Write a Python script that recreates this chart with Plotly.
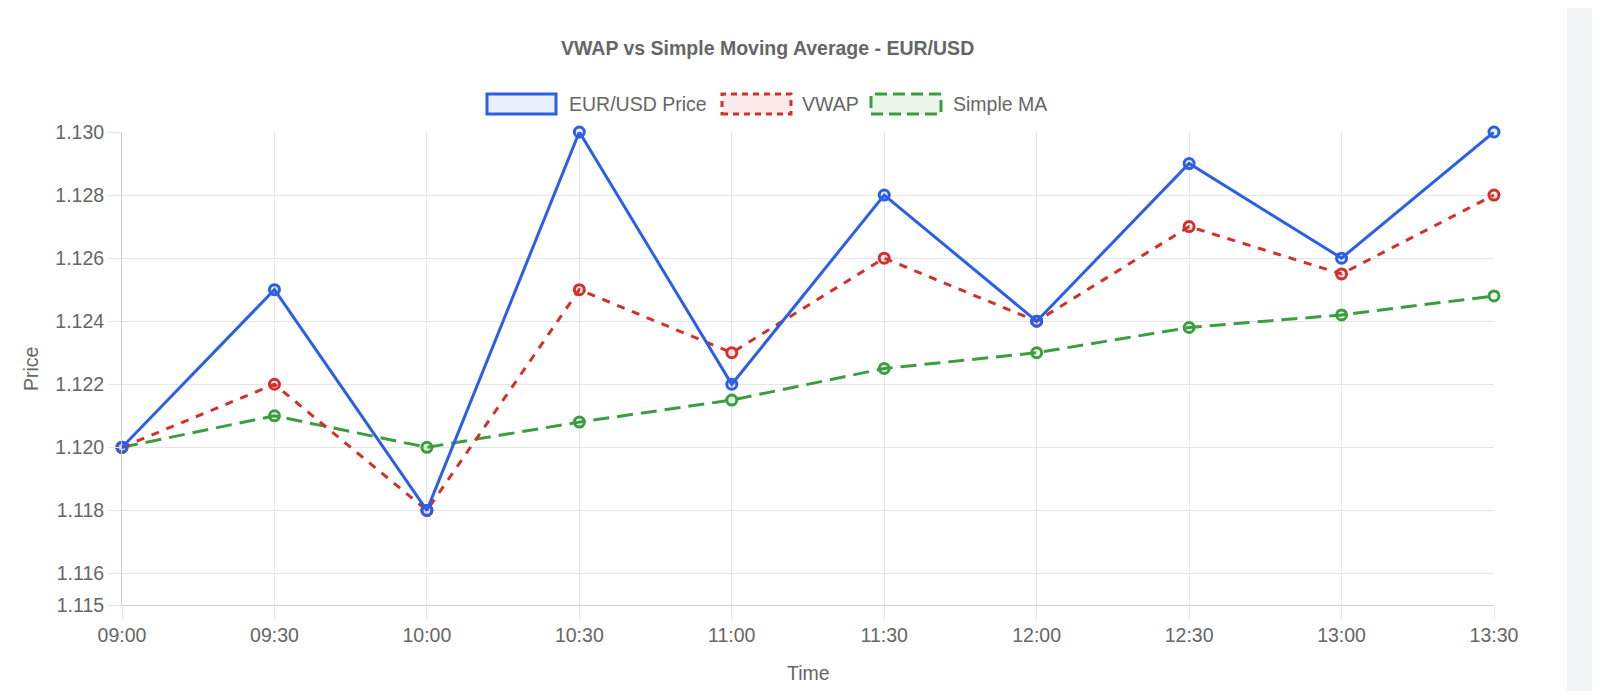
import plotly.graph_objects as go

# ---- data ----
times = ["09:00", "09:30", "10:00", "10:30", "11:00", "11:30", "12:00", "12:30", "13:00", "13:30"]
price = [1.120, 1.125, 1.118, 1.130, 1.122, 1.128, 1.124, 1.129, 1.126, 1.130]
vwap = [1.120, 1.122, 1.118, 1.125, 1.123, 1.126, 1.124, 1.127, 1.1255, 1.128]
sma = [1.120, 1.121, 1.120, 1.1208, 1.1215, 1.1225, 1.123, 1.1238, 1.1242, 1.1248]
y_ticks = [1.115, 1.116, 1.118, 1.120, 1.122, 1.124, 1.126, 1.128, 1.130]
y_tick_text = ["%.3f" % v for v in y_ticks]

title_text = "VWAP vs Simple Moving Average - EUR/USD"
series_names = ["EUR/USD Price", "VWAP", "Simple MA"]

# ---- style ----
FONT = "Liberation Sans, Arial, Helvetica, sans-serif"
TXT = "#666666"
FS = 19.5
BLUE = "#2b5fe6"
RED = "#d3302b"
GREEN = "#3a9e3f"
BLUE_F = "rgba(43,95,230,0.10)"
RED_F = "rgba(211,48,43,0.10)"
GREEN_F = "rgba(58,158,63,0.10)"
GRID = "#e6e6e6"
AXIS = "#d0d0d0"

W, H = 1584, 683
L, R, T, B = 114, 98, 124, 86
PW, PH = W - L - R, H - T - B


def px_x(x):
    return (x - L) / PW


def px_y(y):
    return 1 - (y - T) / PH


fig = go.Figure()

fig.add_trace(go.Scatter(
    x=times, y=sma, name=series_names[2], mode="lines+markers",
    line=dict(color=GREEN, width=3, dash="16px,8px"),
    marker=dict(symbol="circle", size=10, color=GREEN_F, line=dict(color=GREEN, width=3)),
    cliponaxis=False))
fig.add_trace(go.Scatter(
    x=times, y=vwap, name=series_names[1], mode="lines+markers",
    line=dict(color=RED, width=3, dash="8px,8px"),
    marker=dict(symbol="circle", size=10, color=RED_F, line=dict(color=RED, width=3)),
    cliponaxis=False))
fig.add_trace(go.Scatter(
    x=times, y=price, name=series_names[0], mode="lines+markers",
    line=dict(color=BLUE, width=3),
    marker=dict(symbol="circle", size=10, color=BLUE_F, line=dict(color=BLUE, width=3)),
    cliponaxis=False))

shapes = []
annotations = []

# right-hand gray strip of the page
shapes.append(dict(type="rect", xref="paper", yref="paper",
                   x0=px_x(1559), x1=px_x(1600), y0=px_y(-20), y1=px_y(720),
                   fillcolor="#f3f4f6", line=dict(width=0), layer="below"))

# title
annotations.append(dict(text="<b>" + title_text + "</b>", xref="paper", yref="paper",
                        x=px_x(759), y=px_y(40), xanchor="center", yanchor="middle",
                        showarrow=False, font=dict(family=FONT, size=FS, color=TXT)))

# custom legend (boxes + labels)
legend_items = [
    (series_names[0], 479, 548, 559, BLUE, BLUE_F, "solid"),
    (series_names[1], 714, 783, 792, RED, RED_F, "6px,5px"),
    (series_names[2], 863, 933, 943, GREEN, GREEN_F, "12px,6px"),
]
for name, bx0, bx1, tx, col, fcol, dash in legend_items:
    shapes.append(dict(type="rect", xref="paper", yref="paper",
                       x0=px_x(bx0), x1=px_x(bx1), y0=px_y(106), y1=px_y(86),
                       fillcolor=fcol, line=dict(color=col, width=3, dash=dash)))
    annotations.append(dict(text=name, xref="paper", yref="paper",
                            x=px_x(tx), y=px_y(96), xanchor="left", yanchor="middle",
                            showarrow=False, font=dict(family=FONT, size=FS, color=TXT)))

# axis titles
annotations.append(dict(text="Price", xref="paper", yref="paper", x=px_x(23), y=px_y(361),
                        textangle=-90, xanchor="center", yanchor="middle", showarrow=False,
                        font=dict(family=FONT, size=FS, color=TXT)))
annotations.append(dict(text="Time", xref="paper", yref="paper", x=px_x(800), y=px_y(665),
                        xanchor="center", yanchor="middle", showarrow=False,
                        font=dict(family=FONT, size=FS, color=TXT)))

fig.update_layout(
    width=W, height=H,
    margin=dict(l=L, r=R, t=T, b=B, pad=0),
    paper_bgcolor="white", plot_bgcolor="white",
    showlegend=False,
    font=dict(family=FONT, size=FS, color=TXT),
    shapes=shapes, annotations=annotations,
)
fig.update_xaxes(
    type="category", range=[0, len(times) - 1],
    showgrid=True, gridcolor=GRID, gridwidth=1,
    showline=True, linecolor=AXIS, linewidth=1,
    ticks="outside", ticklen=13, tickcolor=GRID, tickwidth=1,
    tickfont=dict(family=FONT, size=FS, color=TXT),
    zeroline=False,
)
fig.update_yaxes(
    range=[1.115, 1.130], tickvals=y_ticks, ticktext=y_tick_text,
    showgrid=True, gridcolor=GRID, gridwidth=1,
    showline=True, linecolor=AXIS, linewidth=1,
    ticks="outside", ticklen=13, tickcolor=GRID, tickwidth=1,
    tickfont=dict(family=FONT, size=FS, color=TXT),
    zeroline=False,
)

fig.write_html("out.html")
